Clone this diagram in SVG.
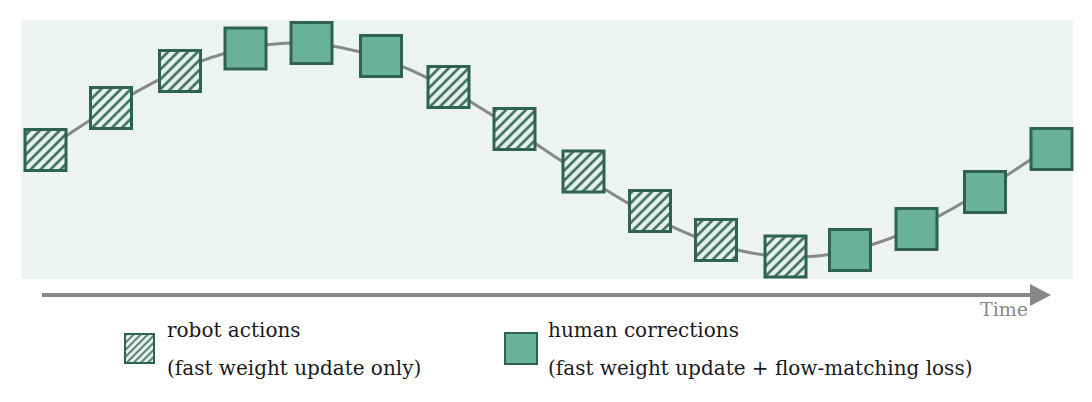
<svg xmlns="http://www.w3.org/2000/svg" width="1092" height="402" viewBox="0 0 1092 402">
<defs>
<pattern id="hatch" patternUnits="userSpaceOnUse" width="7" height="7" patternTransform="rotate(45)">
<rect width="7" height="7" fill="#e6f0ec"/>
<line x1="1.5" y1="0" x2="1.5" y2="7" stroke="#2e6351" stroke-width="2.4"/>
</pattern>
<pattern id="hatchS" patternUnits="userSpaceOnUse" width="5" height="5" patternTransform="rotate(45)">
<rect width="5" height="5" fill="#e6f0ec"/>
<line x1="1" y1="0" x2="1" y2="5" stroke="#2e6351" stroke-width="1.5"/>
</pattern>
<style>
.robot{fill:url(#hatch);stroke:#2e6351;stroke-width:3}
.human{fill:#6ab19b;stroke:#2e6351;stroke-width:3}
.lbl{font-family:"DejaVu Serif","Liberation Serif",serif;font-size:20px;fill:#1a1a1a}
.time{font-family:"DejaVu Serif","Liberation Serif",serif;font-size:19px;fill:#888888}
</style>
</defs>
<rect x="21" y="20" width="1052" height="259" fill="#edf3f1"/>
<g id="connectors">
<path d="M45,150 C126.5,95.2 204.6,43 295,43 C385.4,43 463.5,95.2 545,150 C626.5,204.8 704.6,257 795,257 C885.4,257 963.5,204.8 1045,150" fill="none" stroke="#888888" stroke-width="3"/>
<line x1="42" y1="295" x2="1032" y2="295" stroke="#888888" stroke-width="4"/>
<polygon points="1030,284 1051,295 1030,306" fill="#888888"/>
</g>
<g id="n1"><rect class="robot" x="25" y="129.5" width="41" height="41"/></g>
<g id="n2"><rect class="robot" x="90.5" y="87.5" width="41" height="41"/></g>
<g id="n3"><rect class="robot" x="159.5" y="50.5" width="41" height="41"/></g>
<g id="n4"><rect class="human" x="225" y="28" width="41" height="41"/></g>
<g id="n5"><rect class="human" x="291" y="22.5" width="41" height="41"/></g>
<g id="n6"><rect class="human" x="360.5" y="35.5" width="41" height="41"/></g>
<g id="n7"><rect class="robot" x="428" y="66.5" width="41" height="41"/></g>
<g id="n8"><rect class="robot" x="494" y="108.5" width="41" height="41"/></g>
<g id="n9"><rect class="robot" x="563" y="151" width="41" height="41"/></g>
<g id="n10"><rect class="robot" x="629.5" y="190.5" width="41" height="41"/></g>
<g id="n11"><rect class="robot" x="695.5" y="219.5" width="41" height="41"/></g>
<g id="n12"><rect class="robot" x="765" y="236" width="41" height="41"/></g>
<g id="n13"><rect class="human" x="829.5" y="229.5" width="41" height="41"/></g>
<g id="n14"><rect class="human" x="896" y="208.5" width="41" height="41"/></g>
<g id="n15"><rect class="human" x="964.5" y="171.5" width="41" height="41"/></g>
<g id="n16"><rect class="human" x="1031" y="128.5" width="41" height="41"/></g>
<text class="time" x="980" y="316">Time</text>
<g id="legend-robot">
<rect x="125" y="334" width="29" height="29" fill="url(#hatchS)" stroke="#2e6351" stroke-width="2"/>
<text class="lbl" x="167" y="337">robot actions</text>
<text class="lbl" x="167" y="375">(fast weight update only)</text>
</g>
<g id="legend-human">
<rect x="505" y="333" width="32" height="31" fill="#6ab19b" stroke="#2e6351" stroke-width="2"/>
<text class="lbl" x="548" y="337">human corrections</text>
<text class="lbl" x="548" y="375">(fast weight update + flow-matching loss)</text>
</g>
</svg>
